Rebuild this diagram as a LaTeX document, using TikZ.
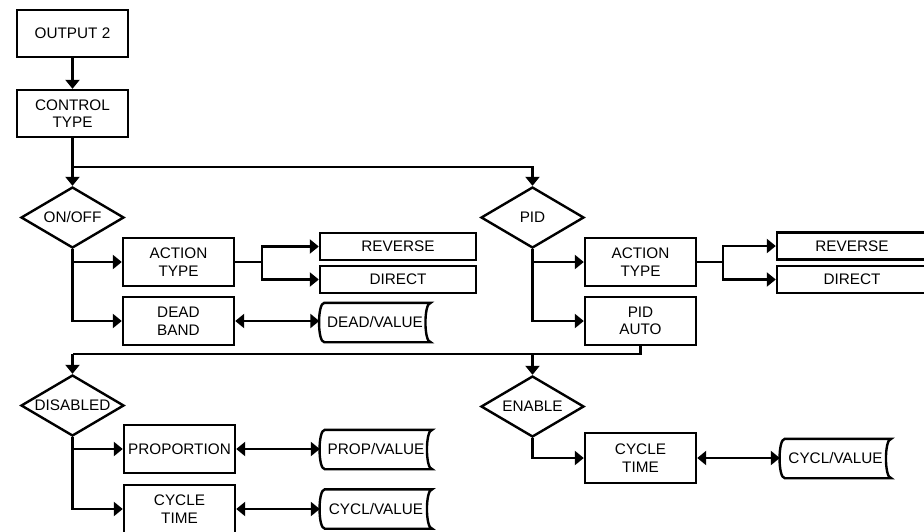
\documentclass[tikz,border=0pt]{standalone}
\usepackage{fontspec}
\setmainfont{Liberation Sans}
\usetikzlibrary{shapes.geometric,arrows.meta}
\begin{document}
\begin{tikzpicture}[x=1pt,y=-1pt,
  every node/.style={font=\fontsize{15.3}{17.5}\selectfont, align=center, inner sep=0pt},
  box/.style={draw, line width=2.4pt, rectangle, minimum width=111pt, minimum height=48pt},
  optbox/.style={draw, line width=2.4pt, rectangle, minimum height=27pt},
  dec/.style={draw, line width=2.4pt, diamond, aspect=1.69, minimum width=103pt, minimum height=61pt},
  stored/.style={rectangle, minimum width=111pt, minimum height=39pt},
  conn/.style={line width=2.4pt},
  tip/.style={Triangle[length=9pt,width=14pt]},
  arr/.style={conn, -{Triangle[length=9pt,width=14pt]}},
  biarr/.style={conn, {Triangle[length=9pt,width=14pt]}-{Triangle[length=9pt,width=14pt]}}]
\useasboundingbox (0,0) rectangle (924,531);

% nodes
\node[box, minimum height=47pt] (out2) at (72.5,33.5) {OUTPUT 2};
\node[box, minimum height=47pt] (ctype) at (72.5,113.5) {CONTROL\\TYPE};
\node[dec] (onoff) at (72.5,217.5) {ON/OFF};
\node[dec] (pid) at (532.5,217.5) {PID};

\node[box] (atL) at (178.5,262) {ACTION\\TYPE};
\node[box] (dbL) at (178.5,321) {DEAD\\BAND};
\node[optbox, minimum width=156pt] (revL) at (398,246.5) {REVERSE};
\node[optbox, minimum width=156pt] (dirL) at (398,279.5) {DIRECT};
\node[stored] (dvL) at (375,322.5) {DEAD/VALUE};

\node[box] (atR) at (640.5,262) {ACTION\\TYPE};
\node[box] (paR) at (640.5,321) {PID\\AUTO};
\node[optbox, minimum width=150pt] (revR) at (852,246) {REVERSE};
\node[optbox, minimum width=150pt] (dirR) at (852,279.5) {DIRECT};

\node[dec] (dis) at (72.5,405.5) {DISABLED};
\node[dec] (ena) at (532.5,406.5) {ENABLE};

\node[box] (prop) at (179.5,449) {PROPORTION};
\node[box] (ctL) at (179.5,509) {CYCLE\\TIME};
\node[stored, minimum width=112pt] (pvL) at (376,449.5) {PROP/VALUE};
\node[stored, minimum width=112pt] (cvL) at (376,509) {CYCL/VALUE};

\node[box, minimum height=50pt] (ctR) at (640.5,458) {CYCLE\\TIME};
\node[stored] (cvR) at (835.5,458.5) {CYCL/VALUE};

% stored-data outlines
\foreach \n in {dvL,pvL,cvL,cvR}{
  \draw[line width=2.4pt] ([xshift=5pt]\n.north west) -- (\n.north east)
    .. controls ([xshift=-7pt]\n.north east) and ([xshift=-7pt]\n.south east) .. (\n.south east)
    -- ([xshift=5pt]\n.south west)
    .. controls ([xshift=-2pt]\n.south west) and ([xshift=-2pt]\n.north west) .. cycle;
}

% connectors
\coordinate (j1) at (72.5,167);
\coordinate (j2) at (532.5,167);
\draw[arr] (out2) -- (ctype);
\draw[conn] (ctype.south) -- (j1);
\draw[arr] (j1) -- (onoff.north);
\draw[arr] (j1) -- (j2) -- (pid.north);

% ON/OFF branch
\draw[arr] (onoff.south) |- (dbL.west);
\draw[arr] (onoff.south |- atL.west) -- (atL.west);
\coordinate (sL) at (262,262);
\draw[conn] (atL.east) -- (sL);
\draw[arr] (sL) |- (revL.west);
\draw[arr] (sL) |- (dirL.west);
\draw[biarr] (dbL.east) -- (dbL.east -| dvL.west);

% PID branch
\draw[arr] (pid.south) |- (paR.west);
\draw[arr] (pid.south |- atR.west) -- (atR.west);
\coordinate (sR) at (723,262);
\draw[conn] (atR.east) -- (sR);
\draw[arr] (sR) |- (revR.west);
\draw[arr] (sR) |- (dirR.west);

% PID AUTO
\coordinate (j3) at (640.5,354);
\coordinate (j4) at (532.5,354);
\coordinate (j5) at (72.5,354);
\draw[conn] (paR.south) -- (j3) -- (j5);
\draw[arr] (j5) -- (dis.north);
\draw[arr] (j4) -- (ena.north);

% DISABLED branch
\draw[arr] (dis.south) |- (ctL.west);
\draw[arr] (dis.south |- prop.west) -- (prop.west);
\draw[biarr] (prop.east) -- (prop.east -| pvL.west);
\draw[biarr] (ctL.east) -- (ctL.east -| cvL.west);

% ENABLE branch
\draw[arr] (ena.south) |- (ctR.west);
\draw[biarr] (ctR.east) -- (ctR.east -| cvR.west);
\end{tikzpicture}
\end{document}
